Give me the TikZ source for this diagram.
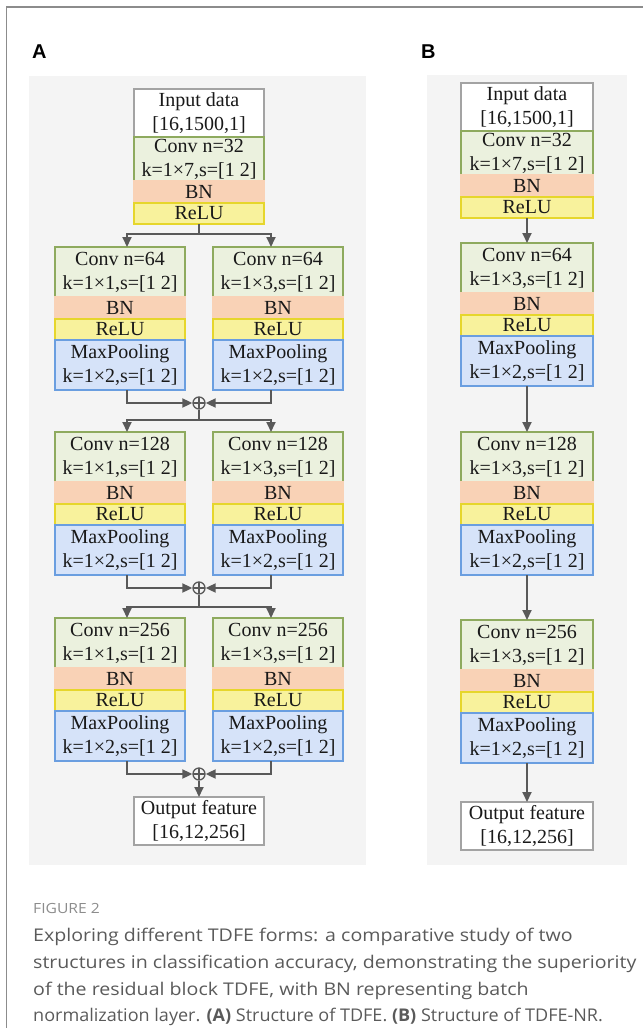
\documentclass[tikz,border=0pt]{standalone}
\usepackage{fontspec}
\setmainfont{Liberation Serif}
\newfontfamily\capfont[FakeStretch=1.12]{Open Sans}
\newfontfamily\capfontnarrow[FakeStretch=1.03]{Open Sans}
\newfontfamily\labfont{Liberation Sans}
\usetikzlibrary{arrows.meta,positioning}

\definecolor{framegray}{HTML}{8C8C8C}
\definecolor{panelbg}{HTML}{F4F4F4}
\definecolor{iogray}{HTML}{A3A3A3}
\definecolor{convfill}{HTML}{EBF1DE}
\definecolor{convline}{HTML}{8EAA5E}
\definecolor{bnfill}{HTML}{F9D2B6}
\definecolor{relufill}{HTML}{F8F29C}
\definecolor{reluline}{HTML}{E6D62C}
\definecolor{poolfill}{HTML}{D6E3F9}
\definecolor{poolline}{HTML}{6A9EE0}
\definecolor{linkgray}{HTML}{595959}
\definecolor{captext}{HTML}{5A5A5A}

\tikzset{
  layer/.style={draw, line width=1.3pt, minimum width=130pt, inner sep=0pt, outer sep=0pt,
    align=center, font=\fontsize{20}{24}\selectfont, text=black!90},
  iobox/.style={layer, draw=iogray, fill=white, minimum height=48pt},
  convbox/.style={layer, draw=convline, fill=convfill, minimum height=50pt},
  bnbox/.style={layer, draw=bnfill, fill=bnfill, minimum height=22pt},
  relubox/.style={layer, draw=reluline, fill=relufill, minimum height=21pt},
  poolbox/.style={layer, draw=poolline, fill=poolfill, minimum height=50pt},
  link/.style={draw=linkgray, line width=1.8pt},
  flow/.style={link, -{Triangle[length=10pt,width=9pt]}},
  sumnode/.style={circle, draw=linkgray, fill=panelbg, line width=1.3pt, minimum size=12pt, inner sep=0pt,
    path picture={\draw[linkgray, line width=1.1pt]
      (path picture bounding box.north) -- (path picture bounding box.south)
      (path picture bounding box.west) -- (path picture bounding box.east);}},
  panellabel/.style={anchor=base west, inner sep=0pt, font=\labfont\bfseries\fontsize{20}{24}\selectfont}
}

\begin{document}
\begin{tikzpicture}[x=1pt,y=-1pt]
  \useasboundingbox (0,0) rectangle (643,1028);
  % outer frame of the figure
  \draw[framegray, line width=1.5pt] (6.5,1028) -- (6.5,7) -- (643,7);
  % grey panels behind the two networks
  \fill[panelbg] (29,76) rectangle (366,865);
  \fill[panelbg] (427,75) rectangle (627,865);
  \node[panellabel] (labA) at (32,58) {A};
  \node[panellabel] (labB) at (421,58) {B};

  % ---- (A) TDFE with residual branches ----
  \node[iobox, anchor=north] (ain) at (199,89) {Input data\\{}[16,1500,1]};
  \node[convbox, minimum height=44pt, below=0pt of ain] (aconv0) {Conv n=32\\k=1×7,s=[1 2]};
  \node[bnbox, below=0pt of aconv0] (abn0) {BN};
  \node[relubox, below=0pt of abn0] (arelu0) {ReLU};

  \foreach \i/\top/\n in {1/247/64, 2/432/128, 3/618/256} {
    % left branch, kernel 1x1
    \node[convbox, anchor=north] (lconv\i) at (120,\top) {Conv n=\n\\k=1×1,s=[1 2]};
    \node[bnbox, below=0pt of lconv\i] (lbn\i) {BN};
    \node[relubox, below=0pt of lbn\i] (lrelu\i) {ReLU};
    \node[poolbox, below=0pt of lrelu\i] (lpool\i) {MaxPooling\\k=1×2,s=[1 2]};
    % right branch, kernel 1x3
    \node[convbox, anchor=north] (rconv\i) at (278,\top) {Conv n=\n\\k=1×3,s=[1 2]};
    \node[bnbox, below=0pt of rconv\i] (rbn\i) {BN};
    \node[relubox, below=0pt of rbn\i] (rrelu\i) {ReLU};
    \node[poolbox, below=0pt of rrelu\i] (rpool\i) {MaxPooling\\k=1×2,s=[1 2]};
    % the two branches are added
    \node[sumnode] (sum\i) at (199,\top+156) {};
  }

  \coordinate (fork1) at (199,234);
  \coordinate (fork2) at (199,420);
  \coordinate (fork3) at (199,607);
  \draw[link] (arelu0.south) -- (fork1);
  \draw[link] (sum1.south) -- (fork2);
  \draw[link] (sum2.south) -- (fork3);
  \foreach \i in {1,2,3} {
    \draw[flow] (fork\i) -| ([xshift=7pt]lconv\i.north);
    \draw[flow] (fork\i) -| ([xshift=-7pt]rconv\i.north);
    \draw[flow] ([xshift=7pt]lpool\i.south) |- (sum\i.west);
    \draw[flow] ([xshift=-7pt]rpool\i.south) |- (sum\i.east);
  }

  \node[iobox, anchor=north] (aout) at (199,797) {Output feature\\{}[16,12,256]};
  \draw[flow] (sum3.south) -- (aout.north);

  % ---- (B) TDFE-NR, a single chain ----
  \begin{scope}[layer/.append style={minimum width=132pt}]
    \node[iobox, anchor=north] (bin) at (527,83) {Input data\\{}[16,1500,1]};
    \node[convbox, minimum height=44pt, below=0pt of bin] (bconv0) {Conv n=32\\k=1×7,s=[1 2]};
    \node[bnbox, below=0pt of bconv0] (bbn0) {BN};
    \node[relubox, below=0pt of bbn0] (brelu0) {ReLU};

    \foreach \i/\top/\n in {1/243/64, 2/432/128, 3/620/256} {
      \node[convbox, anchor=north] (bconv\i) at (527,\top) {Conv n=\n\\k=1×3,s=[1 2]};
      \node[bnbox, below=0pt of bconv\i] (bbn\i) {BN};
      \node[relubox, below=0pt of bbn\i] (brelu\i) {ReLU};
      \node[poolbox, below=0pt of brelu\i] (bpool\i) {MaxPooling\\k=1×2,s=[1 2]};
    }

    \node[iobox, anchor=north] (bout) at (527,802) {Output feature\\{}[16,12,256]};
  \end{scope}
  \draw[flow] (brelu0.south) -- (bconv1.north);
  \draw[flow] (bpool1.south) -- (bconv2.north);
  \draw[flow] (bpool2.south) -- (bconv3.north);
  \draw[flow] (bpool3.south) -- (bout.north);

  % caption
  \node[anchor=base west, inner sep=0pt, text=framegray, font=\capfont\fontsize{14}{16}\selectfont] (capno) at (33,913) {FIGURE 2};
  \node[anchor=north west, inner sep=0pt, align=left, text=captext, font=\capfont\fontsize{17.5}{26.7}\selectfont] (captxt) at (33,928)
    {Exploring different TDFE forms: a comparative study of two\\
     structures in classification accuracy, demonstrating the superiority\\
     of the residual block TDFE, with BN representing batch\\
     {\capfontnarrow normalization layer. \textbf{(A)} Structure of TDFE. \textbf{(B)} Structure of TDFE-NR.}};
\end{tikzpicture}
\end{document}
